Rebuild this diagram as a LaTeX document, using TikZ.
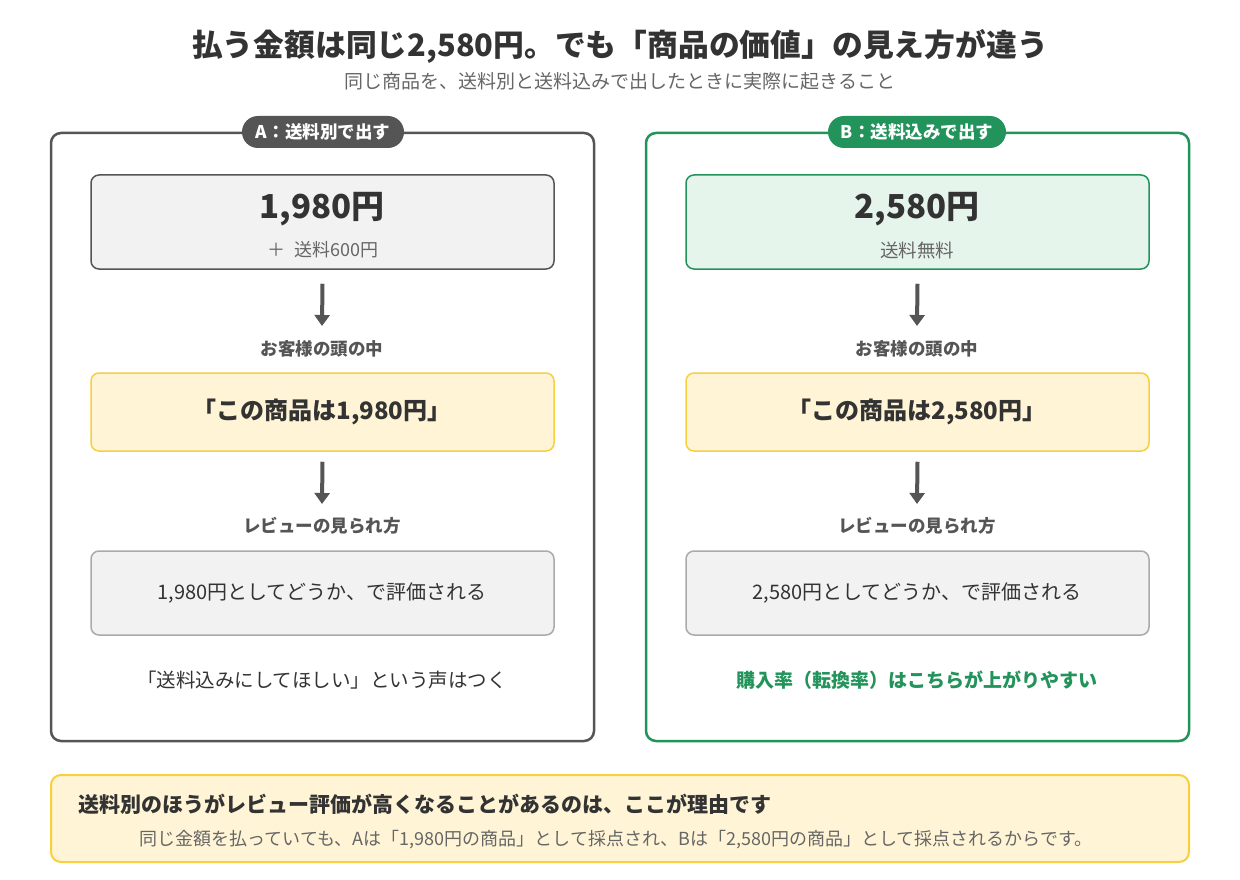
\documentclass[tikz,border=0pt]{standalone}
\usepackage{fontspec}
\setmainfont{Noto Sans CJK JP}
\usetikzlibrary{arrows.meta}
\definecolor{ink}{HTML}{333333}
\definecolor{subink}{HTML}{666666}
\definecolor{midgray}{HTML}{555555}
\definecolor{lightgray}{HTML}{F2F2F2}
\definecolor{softgray}{HTML}{AAAAAA}
\definecolor{grn}{HTML}{22935A}
\definecolor{lightgrn}{HTML}{E6F5EC}
\definecolor{yelfill}{HTML}{FFF5D6}
\definecolor{yelline}{HTML}{F7CF3F}
\newcommand{\fs}[1]{\fontsize{#1}{#1}\selectfont}
\tikzset{
  panelbox/.style={draw, line width=2.5pt, rounded corners=10pt, minimum width=543pt, minimum height=608pt, inner sep=0pt},
  pill/.style={rounded corners=16pt, minimum height=32pt, inner sep=0pt, text=white, font=\fs{17.5}\bfseries},
  pricebox/.style={draw, line width=1.5pt, rounded corners=8pt, minimum width=463pt, minimum height=94pt, inner sep=0pt},
  thinkbox/.style={draw=yelline, fill=yelfill, line width=1.5pt, rounded corners=8pt, minimum width=463pt, minimum height=78pt, inner sep=0pt},
  reviewbox/.style={draw=softgray, fill=lightgray, line width=1.5pt, rounded corners=8pt, minimum width=463pt, minimum height=84pt, inner sep=0pt},
  txt/.style={inner sep=0pt, text=ink},
  steplabel/.style={inner sep=0pt, text=midgray, font=\fs{17.5}\bfseries},
  arr/.style={draw=midgray, line width=4pt, -{Triangle[length=11pt,width=15pt]}}
}
\begin{document}
\begin{tikzpicture}[x=1pt,y=-1pt]
\fill[white] (0,0) rectangle (1240,880);
\useasboundingbox (0,0) rectangle (1240,880);

\node[txt, font=\fs{30.8}\bfseries] (title) at (620,46) {払う金額は同じ2,580円。でも「商品の価値」の見え方が違う};
\node[txt, text=subink, font=\fs{19}] (subtitle) at (620,81) {同じ商品を、送料別と送料込みで出したときに実際に起きること};

% Panel A
\node[panelbox, draw=midgray] (pa) at (322.5,437) {};
\node[pill, fill=midgray, minimum width=162pt] (pilla) at (323,132) {A：送料別で出す};
\node[pricebox, draw=midgray, fill=lightgray] (a1) at (322.5,222) {};
\node[txt, font=\fs{33}\bfseries] (a1p) at (322,209) {1,980円};
\node[txt, text=subink, font=\fs{18}] (a1s) at (323,250) {＋\hspace{9pt}送料600円};
\node[steplabel] (ha) at (322,349) {お客様の頭の中};
\node[thinkbox] (a2) at (322.5,412) {};
\node[txt, font=\fs{24}\bfseries] (a2t) at (322,412) {「この商品は1,980円」};
\node[steplabel] (ra) at (322,526) {レビューの見られ方};
\node[reviewbox] (a3) at (322.5,593) {};
\node[txt, font=\fs{20}] (a3t) at (322,593) {1,980円としてどうか、で評価される};
\node[txt, text=ink, font=\fs{19.5}] (na) at (322,680) {「送料込みにしてほしい」という声はつく};
\draw[arr] ([yshift=-14pt]a1.south) -- ([yshift=23pt]ha.center);
\draw[arr] ([yshift=-10pt]a2.south) -- ([yshift=22pt]ra.center);

% Panel B
\node[panelbox, draw=grn] (pb) at (917.5,437) {};
\node[pill, fill=grn, minimum width=178pt] (pillb) at (917,132) {B：送料込みで出す};
\node[pricebox, draw=grn, fill=lightgrn] (b1) at (917.5,222) {};
\node[txt, font=\fs{33}\bfseries] (b1p) at (917,209) {2,580円};
\node[txt, text=subink, font=\fs{18.5}] (b1s) at (917,250) {送料無料};
\node[steplabel] (hb) at (917,349) {お客様の頭の中};
\node[thinkbox] (b2) at (917.5,412) {};
\node[txt, font=\fs{24}\bfseries] (b2t) at (917,412) {「この商品は2,580円」};
\node[steplabel] (rb) at (917,526) {レビューの見られ方};
\node[reviewbox] (b3) at (917.5,593) {};
\node[txt, font=\fs{20}] (b3t) at (917,593) {2,580円としてどうか、で評価される};
\node[txt, text=grn, font=\fs{19}\bfseries] (nb) at (917,680) {購入率（転換率）はこちらが上がりやすい};
\draw[arr] ([yshift=-14pt]b1.south) -- ([yshift=23pt]hb.center);
\draw[arr] ([yshift=-10pt]b2.south) -- ([yshift=22pt]rb.center);

% Bottom note
\node[draw=yelline, fill=yelfill, line width=2pt, rounded corners=10pt, minimum width=1138pt, minimum height=87pt, inner sep=0pt] (bot) at (620,818.5) {};
\node[txt, anchor=west, font=\fs{21}\bfseries] (bott) at (78,804) {送料別のほうがレビュー評価が高くなることがあるのは、ここが理由です};
\node[txt, text=subink, font=\fs{18}] (botl) at (616,840) {同じ金額を払っていても、Aは「1,980円の商品」として採点され、Bは「2,580円の商品」として採点されるからです。};
\end{tikzpicture}
\end{document}
